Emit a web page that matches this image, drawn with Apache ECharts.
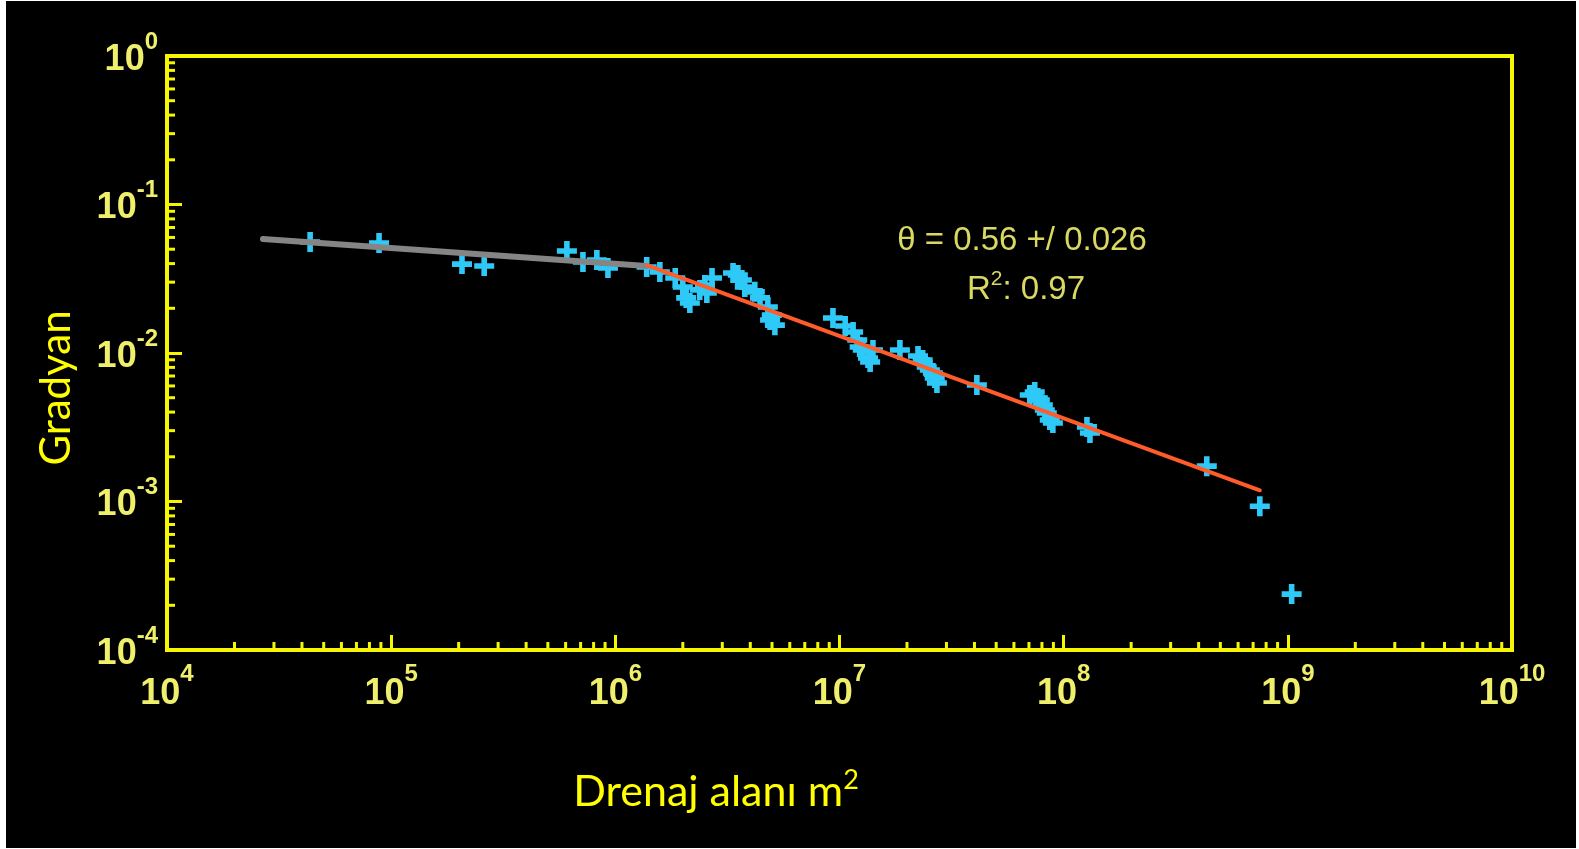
<!DOCTYPE html>
<html>
<head>
<meta charset="utf-8">
<script src="https://cdn.jsdelivr.net/npm/echarts@6/dist/echarts.min.js"></script>
<style>
  html, body { margin: 0; padding: 0; background: #ffffff; }
  #bg { position: absolute; left: 6px; top: 1px; width: 1570px; height: 847px; background: #000000; }
  #chart { position: absolute; left: 0; top: 0; width: 1579px; height: 849px; }
</style>
</head>
<body>
<div id="bg"></div>
<div id="chart"></div>
<script>
// ---- data ----
const X_EXPONENTS = [4, 5, 6, 7, 8, 9, 10];      // x tick labels 10^n
const Y_EXPONENTS = [-4, -3, -2, -1, 0];         // y tick labels 10^n
const MINOR_MULTIPLES = [2, 3, 4, 5, 6, 7, 8, 9];

// drainage area (m^2) of each sample
const areaValues = [
  4.35e4, 8.83e4, 2.07e5, 2.6e5, 6.08e5, 7.17e5, 8.27e5, 9.27e5, 1.38e6,
  1.58e6, 1.85e6, 2.0e6, 2.15e6, 2.07e6, 2.38e6, 2.56e6, 2.70e6, 2.51e6,
  3.35e6, 3.52e6, 3.67e6, 3.78e6, 4.19e6, 4.42e6, 4.79e6, 4.90e6, 4.99e6, 5.15e6,
  9.35e6, 1.06e7, 1.15e7, 1.20e7, 1.23e7, 1.27e7, 1.34e7, 1.37e7, 1.41e7,
  1.86e7,
  2.24e7, 2.35e7, 2.45e7, 2.53e7, 2.61e7, 2.66e7, 2.72e7,
  4.10e7,
  7.06e7, 7.43e7, 7.67e7, 7.83e7, 8.07e7, 8.24e7, 8.41e7, 8.67e7, 8.95e7,
  1.27e8, 1.31e8,
  4.35e8, 7.5e8, 1.04e9
];
// gradient of each sample
const gradientValues = [
  0.0559, 0.0551, 0.0397, 0.0385, 0.0486, 0.041, 0.0423, 0.0374, 0.0379,
  0.0351, 0.0320, 0.0278, 0.0217, 0.0235, 0.0266, 0.0254, 0.0320, 0.0287,
  0.0346, 0.0335, 0.0310, 0.0278, 0.0258, 0.0235, 0.0204, 0.0167, 0.0180, 0.0154,
  0.0172, 0.0152, 0.01385, 0.01224, 0.01097, 0.01047, 0.00925, 0.00869, 0.01047,
  0.01047,
  0.00955, 0.00897, 0.00805, 0.00768, 0.00733, 0.00679, 0.00628,
  0.00609,
  0.00521, 0.00546, 0.00498, 0.00483, 0.00447, 0.00413, 0.00394, 0.00354, 0.00338,
  0.00318, 0.00289,
  0.00173, 0.00093, 0.000238
];
// fitted lines
const grayFitX = [2.68e4, 1.38e6];
const grayFitY = [0.0586, 0.0385];
const redFitX = [1.38e6, 7.5e8];
const redFitY = [0.039, 0.00119];

const annotationLine1 = 'θ = 0.56 +/ 0.026';
const annotationLine2 = ['R', '2', ': 0.97'];
const xTitle = ['Drenaj alanı m', '2'];
const yTitle = 'Gradyan';

// ---- build ----
const AXIS_YELLOW = '#f6f600';
const LABEL_YELLOW = '#efef6c';
const TITLE_YELLOW = '#ffff00';
const NOTE_YELLOW = '#d9d962';
const labelFont = 'Liberation Sans';

function expOf(v) { return Math.round(Math.log10(v)); }
function labelFmt(exps) {
  return function (v) {
    const e = expOf(v);
    if (exps.indexOf(e) < 0) return '';
    return '{b|10}{s|' + e + '}';
  };
}
function makeRich(baseLineHeight) {
  return {
    b: { fontSize: 36, fontWeight: 'bold', fontFamily: labelFont, color: LABEL_YELLOW, lineHeight: baseLineHeight },
    s: { fontSize: 24, fontWeight: 'bold', fontFamily: labelFont, color: LABEL_YELLOW, lineHeight: 24, verticalAlign: 'top' }
  };
}

const scatterData = areaValues.map((a, i) => [a, gradientValues[i]]);
const grayData = grayFitX.map((x, i) => [x, grayFitY[i]]);
const redData = redFitX.map((x, i) => [x, redFitY[i]]);

const xMin = Math.pow(10, X_EXPONENTS[0]), xMax = Math.pow(10, X_EXPONENTS[X_EXPONENTS.length - 1]);
const yMin = Math.pow(10, Y_EXPONENTS[0]), yMax = Math.pow(10, Y_EXPONENTS[Y_EXPONENTS.length - 1]);

const xMinorTicks = [];
for (let i = 0; i < X_EXPONENTS.length - 1; i++) {
  MINOR_MULTIPLES.forEach(m => xMinorTicks.push([m * Math.pow(10, X_EXPONENTS[i]), yMin]));
}
const yMinorTicks = [];
for (let i = 0; i < Y_EXPONENTS.length - 1; i++) {
  MINOR_MULTIPLES.forEach(m => yMinorTicks.push([xMin, m * Math.pow(10, Y_EXPONENTS[i])]));
}

const PLUS = 'path://M3.6,0H6.4V3.6H10V6.4H6.4V10H3.6V6.4H0V3.6H3.6Z';

const chart = echarts.init(document.getElementById('chart'), null, { renderer: 'canvas' });
const option = {
  backgroundColor: 'transparent',
  animation: false,
  grid: {
    left: 167, right: 67, top: 56, bottom: 199,
    show: true, borderColor: AXIS_YELLOW, borderWidth: 4, backgroundColor: 'transparent',
    containLabel: false
  },
  xAxis: {
    type: 'log', logBase: 10, min: xMin, max: xMax, splitNumber: 6,
    axisLine: { show: true, lineStyle: { color: AXIS_YELLOW, width: 4 } },
    axisTick: { show: true, inside: true, length: 15, lineStyle: { color: AXIS_YELLOW, width: 3 } },
    splitLine: { show: false },
    minorTick: { show: false },
    axisLabel: {
      margin: 12, formatter: labelFmt(X_EXPONENTS), rich: makeRich(64),
      fontSize: 36, fontWeight: 'bold', fontFamily: labelFont, color: LABEL_YELLOW,
      showMinLabel: true, showMaxLabel: true, hideOverlap: false
    }
  },
  yAxis: {
    type: 'log', logBase: 10, min: yMin, max: yMax, splitNumber: 4,
    axisLine: { show: true, lineStyle: { color: AXIS_YELLOW, width: 4 } },
    axisTick: { show: true, inside: true, length: 15, lineStyle: { color: AXIS_YELLOW, width: 3 } },
    splitLine: { show: false },
    minorTick: { show: false },
    axisLabel: {
      margin: 9, formatter: labelFmt(Y_EXPONENTS), rich: makeRich(60),
      padding: [8, 0, 0, 0],
      fontSize: 36, fontWeight: 'bold', fontFamily: labelFont, color: LABEL_YELLOW,
      showMinLabel: true, showMaxLabel: true, hideOverlap: false
    }
  },
  series: [
    {
      type: 'custom', name: 'xMinor', silent: true, clip: false, z: 5,
      data: xMinorTicks,
      renderItem: function (params, api) {
        const p = api.coord([api.value(0), api.value(1)]);
        return { type: 'line', shape: { x1: p[0], y1: p[1], x2: p[0], y2: p[1] - 8 },
                 style: { stroke: AXIS_YELLOW, lineWidth: 3 } };
      }
    },
    {
      type: 'custom', name: 'yMinor', silent: true, clip: false, z: 5,
      data: yMinorTicks,
      renderItem: function (params, api) {
        const p = api.coord([api.value(0), api.value(1)]);
        return { type: 'line', shape: { x1: p[0], y1: p[1], x2: p[0] + 8, y2: p[1] },
                 style: { stroke: AXIS_YELLOW, lineWidth: 3 } };
      }
    },
    {
      type: 'scatter', name: 'samples', data: scatterData, z: 2,
      symbol: PLUS, symbolSize: 20,
      itemStyle: { color: '#2ec9f7', opacity: 1 }
    },
    {
      type: 'line', name: 'grayFit', data: grayData, z: 3,
      showSymbol: false, symbol: 'none',
      lineStyle: { color: '#858585', width: 6, cap: 'round' }
    },
    {
      type: 'line', name: 'redFit', data: redData, z: 3,
      showSymbol: false, symbol: 'none',
      lineStyle: { color: '#ff5b2b', width: 4, cap: 'round' }
    }
  ],
  graphic: [
    {
      type: 'text', x: 1022, y: 241, z: 10,
      style: {
        text: annotationLine1, textAlign: 'center', textVerticalAlign: 'middle',
        fontSize: 33, fontFamily: labelFont, fill: NOTE_YELLOW
      }
    },
    {
      type: 'text', x: 1026, y: 290, z: 10,
      style: {
        text: '{r|' + annotationLine2[0] + '}{s|' + annotationLine2[1] + '}{r|' + annotationLine2[2] + '}',
        textAlign: 'center', textVerticalAlign: 'middle',
        rich: {
          r: { fontSize: 33, fontFamily: labelFont, fill: NOTE_YELLOW, color: NOTE_YELLOW, lineHeight: 42 },
          s: { fontSize: 21, fontFamily: labelFont, fill: NOTE_YELLOW, color: NOTE_YELLOW, lineHeight: 21, verticalAlign: 'top' }
        }
      }
    },
    {
      type: 'text', x: 716, y: 792, z: 10,
      style: {
        text: '{a|' + xTitle[0] + '}{s|' + xTitle[1] + '}',
        textAlign: 'center', textVerticalAlign: 'middle',
        rich: {
          a: { fontSize: 43, fontFamily: 'Lato', fill: TITLE_YELLOW, color: TITLE_YELLOW, lineHeight: 50 },
          s: { fontSize: 27, fontFamily: 'Lato', fill: TITLE_YELLOW, color: TITLE_YELLOW, lineHeight: 27, verticalAlign: 'top' }
        }
      }
    },
    {
      type: 'text', x: 56, y: 388, rotation: Math.PI / 2, z: 10,
      style: {
        text: yTitle, textAlign: 'center', textVerticalAlign: 'middle',
        fontSize: 42, fontFamily: 'Lato', fill: TITLE_YELLOW
      }
    }
  ]
};
chart.setOption(option);
</script>
</body>
</html>
